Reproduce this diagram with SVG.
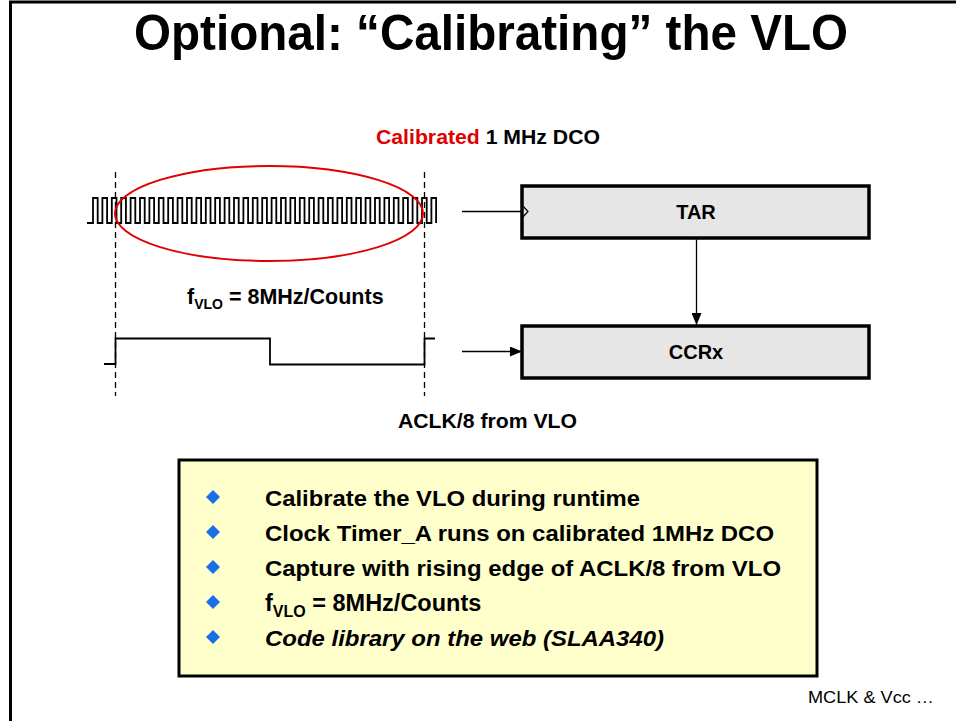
<svg xmlns="http://www.w3.org/2000/svg" width="956" height="721" viewBox="0 0 956 721">
<defs>
<style>
.t{font-family:"Liberation Sans",Arial,sans-serif;font-weight:bold;fill:#000}
.box{fill:#e6e6e6;stroke:#000;stroke-width:3.5}
.wave{fill:none;stroke:#000;stroke-width:1.8}
.dash{stroke:#000;stroke-width:1.3;stroke-dasharray:6 4;fill:none}
.conn{stroke:#000;stroke-width:1.3;fill:none}
.bul{fill:#1a6ee6}
.bt{font-family:"Liberation Sans",Arial,sans-serif;font-weight:bold;font-size:22px;fill:#000}
</style>
<marker id="ah" viewBox="0 0 12 10" refX="12" refY="5" markerWidth="12" markerHeight="10" markerUnits="userSpaceOnUse" orient="auto">
<path d="M0,0 L12,5 L0,10 z" fill="#000"/>
</marker>
<path id="dia" d="M0,-7 L7,0 L0,7 L-7,0 z"/>
</defs>
<rect x="0" y="0" width="956" height="721" fill="#fff"/>
<!-- frame -->
<path d="M10.5,721 V2 H956" fill="none" stroke="#000" stroke-width="3"/>
<g id="title">
<text class="t" x="491" y="50" font-size="50" text-anchor="middle" textLength="714" lengthAdjust="spacingAndGlyphs">Optional: “Calibrating” the VLO</text>
</g>
<g id="dco-label">
<text class="t" x="376" y="144" font-size="20" textLength="224" lengthAdjust="spacingAndGlyphs"><tspan fill="#e00000">Calibrated</tspan> 1 MHz DCO</text>
</g>
<g id="dco-wave">
<path class="wave" d="M87,223 H93
v-25h4.7v25h4.7 v-25h4.7v25h4.7 v-25h4.7v25h4.7 v-25h4.7v25h4.7 v-25h4.7v25h4.7 v-25h4.7v25h4.7
v-25h4.7v25h4.7 v-25h4.7v25h4.7 v-25h4.7v25h4.7 v-25h4.7v25h4.7 v-25h4.7v25h4.7 v-25h4.7v25h4.7
v-25h4.7v25h4.7 v-25h4.7v25h4.7 v-25h4.7v25h4.7 v-25h4.7v25h4.7 v-25h4.7v25h4.7 v-25h4.7v25h4.7
v-25h4.7v25h4.7 v-25h4.7v25h4.7 v-25h4.7v25h4.7 v-25h4.7v25h4.7 v-25h4.7v25h4.7 v-25h4.7v25h4.7
v-25h4.7v25h4.7 v-25h4.7v25h4.7 v-25h4.7v25h4.7 v-25h4.7v25h4.7 v-25h4.7v25h4.7 v-25h4.7v25h4.7
v-25h4.7v25h4.7 v-25h4.7v25h4.7 v-25h4.7v25h4.7 v-25h4.7v25h4.7 v-25h4.7v25h4.7 v-25h4.7v25h4.7
v-25h4.7v25"/>
</g>
<g id="markers">
<line class="dash" x1="115.5" y1="172" x2="115.5" y2="396"/>
<line class="dash" x1="424.5" y1="172" x2="424.5" y2="396"/>
</g>
<g id="ellipse">
<ellipse cx="269" cy="213.5" rx="154" ry="47.5" fill="none" stroke="#e00000" stroke-width="2"/>
</g>
<g id="fvlo-label">
<text class="t" x="187" y="304" font-size="21.5">f<tspan font-size="14" dy="5">VLO</tspan><tspan dy="-5"> = 8MHz/Counts</tspan></text>
</g>
<g id="aclk-wave">
<path class="wave" d="M104,364 H115.5 V338.5 H270 V364.5 H424.5 V338.5 H435"/>
</g>
<g id="aclk-label">
<text class="t" x="398" y="428" font-size="20" textLength="179" lengthAdjust="spacingAndGlyphs">ACLK/8 from VLO</text>
</g>
<g id="tar">
<rect class="box" x="522" y="186" width="347" height="52"/>
<path d="M522,205 L528,211.5 L522,218" fill="none" stroke="#000" stroke-width="1.2"/>
<text class="t" x="696" y="219" font-size="20" text-anchor="middle">TAR</text>
</g>
<g id="ccrx">
<rect class="box" x="522" y="326" width="347" height="52"/>
<text class="t" x="696" y="359" font-size="20" text-anchor="middle">CCRx</text>
</g>
<g id="connectors">
<line class="conn" x1="462" y1="211.5" x2="522" y2="211.5"/>
<line class="conn" x1="462" y1="351.5" x2="522" y2="351.5" marker-end="url(#ah)"/>
<line class="conn" x1="696.5" y1="239.5" x2="696.5" y2="325" marker-end="url(#ah)"/>
</g>
<g id="notes">
<rect x="179" y="460" width="638" height="216" fill="#ffffcc" stroke="#000" stroke-width="3"/>
<use href="#dia" x="213" y="497" class="bul"/>
<use href="#dia" x="213" y="532" class="bul"/>
<use href="#dia" x="213" y="567" class="bul"/>
<use href="#dia" x="213" y="602" class="bul"/>
<use href="#dia" x="213" y="637" class="bul"/>
<text class="bt" x="265" y="506" textLength="375" lengthAdjust="spacingAndGlyphs">Calibrate the VLO during runtime</text>
<text class="bt" x="265" y="541" textLength="509" lengthAdjust="spacingAndGlyphs">Clock Timer_A runs on calibrated 1MHz DCO</text>
<text class="bt" x="265" y="576" textLength="516" lengthAdjust="spacingAndGlyphs">Capture with rising edge of ACLK/8 from VLO</text>
<text class="bt" x="265" y="611" style="font-size:23.5px">f<tspan font-size="16" dy="6">VLO</tspan><tspan dy="-6"> = 8MHz/Counts</tspan></text>
<text class="bt" x="265" y="646" font-style="italic" textLength="399" lengthAdjust="spacingAndGlyphs">Code library on the web (SLAA340)</text>
</g>
<g id="footer">
<text x="808" y="703" font-family="'Liberation Sans',Arial,sans-serif" font-size="17" fill="#000" textLength="126" lengthAdjust="spacingAndGlyphs">MCLK &amp; Vcc …</text>
</g>
</svg>
